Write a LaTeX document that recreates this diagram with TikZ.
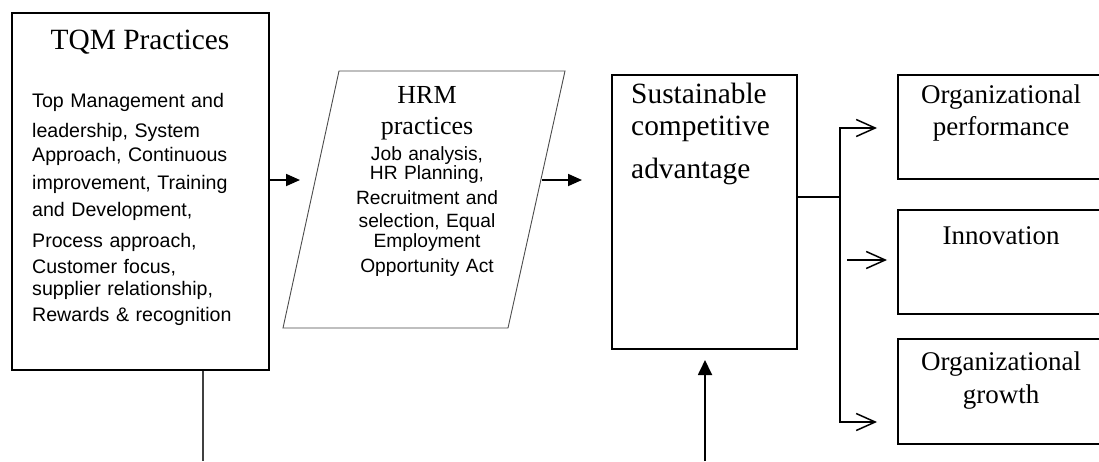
\documentclass[tikz,border=0pt]{standalone}
\usepackage{fontspec}
\setmainfont{Liberation Serif}
\setsansfont{Liberation Sans}
\usetikzlibrary{arrows.meta}
\begin{document}
\begin{tikzpicture}[x=1pt,y=-1pt,
  box/.style={draw=black, line width=1.8pt, inner sep=0pt, anchor=north west},
  para/.style={draw=black!70, line width=0.9pt},
  conn/.style={draw=black, line width=1.5pt},
  fillarrow/.style={draw=black, line width=1.8pt, -{Triangle[length=14pt,width=12pt]}},
  openarrow/.style={draw=black, line width=1.5pt, -{Straight Barb[length=19pt,width=17pt]}},
  titlefont/.style={font=\fontsize{29.4}{32}\selectfont},
  rightfont/.style={font=\fontsize{27}{32}\selectfont},
  bodyfont/.style={font=\sffamily\fontsize{19.6}{24}\selectfont},
  hrmfont/.style={font=\sffamily\fontsize{19.2}{22}\selectfont},
  txt/.style={inner sep=0pt}
]
\useasboundingbox (0,0) rectangle (1099,461);
\clip (0,0) rectangle (1099,461);
\fill[white] (0,0) rectangle (1099,461);

% boxes
\node[box, minimum width=257pt, minimum height=357pt] (tqm) at (11,12) {};
\node[box, minimum width=185pt, minimum height=274pt] (sca) at (611,74) {};
\node[box, minimum width=230pt, minimum height=104pt] (perf) at (897,74) {};
\node[box, minimum width=230pt, minimum height=104pt] (innov) at (897,209) {};
\node[box, minimum width=230pt, minimum height=105pt] (growth) at (897,338) {};

% parallelogram
\coordinate (p1) at (339,71);
\coordinate (p2) at (565,71);
\coordinate (p3) at (508,328);
\coordinate (p4) at (283,328);
\draw[para] (p1) -- (p2) -- (p3) -- (p4) -- cycle;

% texts
\node[txt, titlefont, anchor=base] (tqmt) at (140,49) {TQM Practices};
\node[txt, bodyfont, anchor=base west, text width=235pt, align=left] (tqmb) at (32,107)
  {Top Management and\\[6pt]leadership, System\\[0pt]Approach, Continuous\\[4pt]improvement, Training\\[3pt]and Development,\\[7pt]Process approach,\\[2pt]Customer focus,\\[-2pt]supplier relationship,\\[2pt]Rewards \& recognition};

\node[txt, font=\fontsize{26}{31}\selectfont, anchor=base, text width=150pt, align=center] (hrmt) at (427,103) {HRM\\practices};
\node[txt, hrmfont, anchor=base, text width=200pt, align=center] (hrmb) at (427,160)
  {Job analysis,\\[-3pt]HR Planning,\\[3pt]Recruitment and\\[1pt]selection, Equal\\[-2pt]Employment\\[3pt]Opportunity Act};

\node[txt, titlefont, anchor=base west, text width=170pt, align=left] (scat) at (631,103)
  {Sustainable\\competitive\\[11pt]advantage};

\node[txt, rightfont, anchor=base, text width=200pt, align=center] (perft) at (1001,103) {Organizational\\performance};
\node[txt, rightfont, anchor=base] (innovt) at (1001,244) {Innovation};
\node[txt, rightfont, anchor=base, text width=200pt, align=center] (growtht) at (1001,370) {Organizational\\[1pt]growth};

% connector coordinates
\coordinate (hrmin) at (300,180);
\coordinate (hrmout) at (542,180);
\coordinate (scain) at (582,180);
\coordinate (split) at (840,197);
\coordinate (t1) at (877,128);
\coordinate (t3) at (877,422);
\coordinate (i0) at (847,260);
\coordinate (i1) at (887,260);
\coordinate (b1) at (203,461);
\coordinate (b2) at (705,461);
\coordinate (upend) at (705,360);

% connectors
\draw[fillarrow] (tqm.east |- hrmin) -- (hrmin);
\draw[fillarrow] (hrmout) -- (scain);
\draw[conn] (sca.east |- split) -- (split);
\draw[openarrow] (split) |- (t1);
\draw[openarrow] (split) |- (t3);
\draw[openarrow] (i0) -- (i1);
\draw[draw=black!75, line width=1.3pt] (tqm.south -| b1) -- (b1);
\draw[draw=black, line width=1.8pt, -{Triangle[length=15pt,width=14pt]}] (b2) -- (upend);
\end{tikzpicture}
\end{document}
